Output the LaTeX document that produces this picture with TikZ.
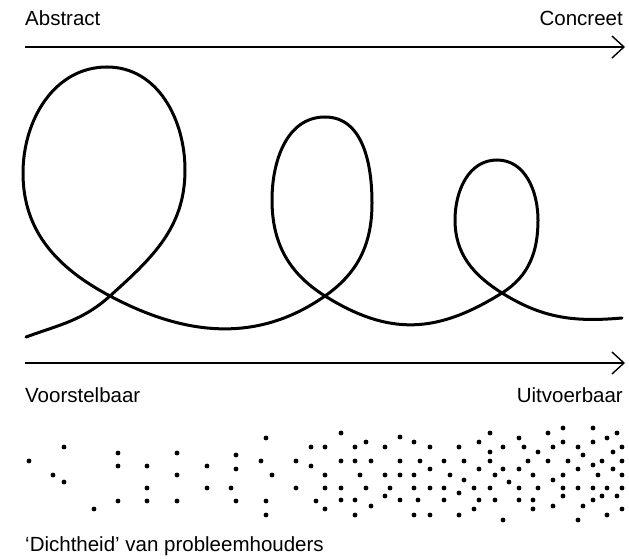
\documentclass[tikz,border=0pt]{standalone}
\usepackage{fontspec}
\setmainfont{Liberation Sans}
\usetikzlibrary{arrows.meta}

\begin{document}
\begin{tikzpicture}[x=1pt,y=1pt,
  txt/.style={inner sep=0pt,font=\fontsize{20.5}{24}\selectfont},
  axisarrow/.style={line width=1.4pt,-{Straight Barb[length=12pt,width=22pt]}},
  curl/.style={line width=3pt,line cap=round},
  dot/.style={fill=black}]
  \def\xl{25};
  \def\xr{625};
  \useasboundingbox (0,0) rectangle (629,559);
  % axes
  \coordinate (topL) at (\xl,512);
  \coordinate (topR) at (\xr,512);
  \coordinate (botL) at (\xl,196);
  \coordinate (botR) at (\xr,196);
  \draw[axisarrow] (topL) -- (topR);
  \draw[axisarrow] (botL) -- (botR);
  \node[txt,anchor=base west] (abstract) at (\xl,533.5) {Abstract};
  \node[txt,anchor=base east] (concreet) at (\xr-2,533.5) {Concreet};
  \node[txt,anchor=base west] (voorstel) at (\xl,156) {Voorstelbaar};
  \node[txt,anchor=base east] (uitvoer) at (\xr-2,156) {Uitvoerbaar};
  \node[txt,anchor=base west] (dichtheid) at (\xl,7.5) {`Dichtheid' van probleemhouders};
  % loops
  \draw[curl] (26,222) to[out=20,in=222] (110,263)
    to[out=42,in=270] (185,389)
    to[out=90,in=0] (107,492)
    to[out=180,in=90] (23,386)
    to[out=270,in=152] (110,263)
    to[out=-28,in=215] (325,263)
    to[out=35,in=270] (372,356)
    to[out=90,in=0] (325,442)
    to[out=180,in=90] (272,359)
    to[out=270,in=148] (325,263)
    to[out=-32,in=212,looseness=1.1] (502,266)
    to[out=32,in=270] (538,339)
    to[out=90,in=0] (497,399)
    to[out=180,in=90] (455,339)
    to[out=270,in=148] (502,266)
    to[out=-32,in=185] (622,241);
  % density
  \foreach \x/\y in {29/461, 64/447, 53/475, 64/482, 94/509, 118/453, 118/466, 118/501,
    147/466, 147/488, 147/501, 177/453, 177/475, 177/501, 207/466, 207/488,
    236/455, 236/469, 231/488, 236/501, 266/438, 261/461, 272/475, 266/501, 266/515,
    296/461, 296/488, 311/447, 311/466, 316/501,
    325/447, 325/475, 325/488, 325/509, 341/433, 341/461, 341/488, 341/500,
    355/447, 355/461, 355/500, 355/515, 366/442, 360/475, 366/488, 371/461, 371/506,
    385/447, 385/475, 385/496, 390/488, 400/437, 400/461, 400/475, 400/500,
    414/442, 420/461, 414/475, 414/488, 418/500, 414/515, 430/447, 430/469, 430/488, 430/515,
    444/461, 450/475, 444/488, 444/500, 459/447, 464/461, 464/480, 459/493, 459/515,
    474/488, 474/509, 479/442, 479/469, 479/500, 490/433, 490/452, 490/461, 490/488,
    495/475, 495/500, 503/447, 503/469, 509/482, 503/520, 519/438, 524/447, 519/469,
    519/488, 519/500, 533/475, 533/500, 533/509, 538/452, 528/461, 538/488,
    548/433, 548/461, 553/447, 553/480, 553/506, 563/428, 563/442, 563/475, 563/488, 563/496,
    568/461, 578/447, 583/455, 578/469, 578/488, 583/506, 578/520,
    593/428, 593/442, 593/465, 593/488, 593/500, 602/461, 598/475, 602/496,
    607/438, 607/488, 607/515, 617/433, 613/452, 613/469, 617/496,
    622/447, 622/461, 622/475, 622/488, 622/509}
    \fill[dot] (\x,559-\y) circle (2.4);
\end{tikzpicture}
\end{document}
